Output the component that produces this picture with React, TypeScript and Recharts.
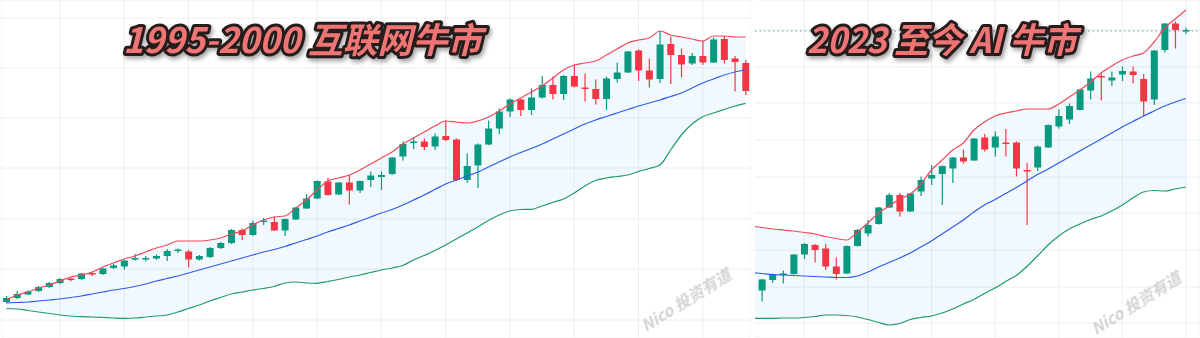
import React from 'react';
import { ComposedChart, Bar, Line, Area, XAxis, YAxis, CartesianGrid, ReferenceLine } from 'recharts';

// TradingView-ish palette
const GREEN = '#089981';
const RED = '#f23645';
const BAND_UP = '#ee4a58';
const BAND_MID = '#2f5bea';
const BAND_LOW = '#1f9a6c';
const GRID = '#eceef2';

// 1995-2000 candles: [open, high, low, close]
const LEFT_CANDLES: number[][] = [
  [36, 42, 35, 40], [40, 47, 39, 44], [43.5, 47.5, 43, 46.5], [47, 52, 46, 51], [51, 56, 50, 55],
  [55, 60, 54, 59], [59.5, 60.5, 56.5, 58], [59, 65, 58, 64.5], [65, 66, 62, 63.5], [64, 70, 63, 69.5],
  [70, 74, 69, 72.5], [71.5, 78, 68.5, 77.5], [79, 84, 77.5, 80], [79, 82, 76.5, 80], [79.5, 83.5, 78, 82],
  [82, 89, 77, 87], [87.5, 89.5, 85, 88.5], [86.5, 88, 70.5, 78.5], [78.5, 83, 77.5, 82], [81, 91, 80, 90],
  [90, 96, 89, 95], [95, 109, 94, 108], [108, 109.5, 98, 103], [103, 117.5, 102, 115], [116.5, 120, 113, 117.5],
  [116, 121.5, 107, 107.5], [107.5, 119.5, 102, 119], [118.5, 131, 118, 130.5], [129.5, 144, 129, 139.5], [139.5, 157.5, 139, 157],
  [156.5, 160, 142.5, 143], [143.5, 156, 143, 155.5], [155.5, 163, 133.5, 147.5], [147.5, 157.5, 145, 157], [158, 166.5, 151, 162.5],
  [161, 166.5, 148, 163], [164, 181, 163, 180.5], [181.5, 196.5, 177.5, 194], [195, 201, 189, 196.5], [196.5, 199.5, 188, 191],
  [191.5, 204.5, 188, 201.5], [202, 217.5, 197, 198], [198.5, 199.5, 157, 158], [158, 184.5, 155, 172], [172.5, 194.5, 150, 193.5],
  [193.5, 217.5, 193, 209.5], [209.5, 229.5, 204, 226.5], [226.5, 239.5, 221, 238.5], [238.5, 239.5, 222, 228], [228, 249.5, 223, 240.5],
  [240.5, 262, 239.5, 253], [253, 261.5, 238.5, 244], [244, 263, 238, 262], [262, 273, 250.5, 251.5], [250.5, 264.5, 236.5, 249],
  [249, 258.5, 233.5, 239], [239, 261.5, 228, 259.5], [259, 275.5, 255.5, 265.5], [265.5, 287, 265, 286.5], [287.5, 288.5, 257, 267.5],
  [267.5, 279.5, 250.5, 258.5], [259, 307, 255, 293.5], [294, 301.5, 254, 283], [283, 289.5, 260.5, 273.5], [274.5, 285, 273, 282],
  [282, 297, 273, 275.5], [275.5, 300.5, 275, 298.5], [299, 302, 274.5, 278], [279.5, 282, 246.5, 276], [275, 278, 243, 247],
];
const LEFT_UPPER = [
  38, 43, 46, 50, 53, 57, 61, 63, 66, 71, 75, 79, 82, 86, 90, 93, 97, 97, 97, 98,
  100, 104, 107, 113, 118, 121, 122, 130, 138, 148, 157, 160, 163, 168, 174, 180, 186, 194, 200, 206,
  212, 217, 216, 215, 217, 221, 227, 234, 240, 246, 252, 260, 268, 273, 275, 277, 283, 289, 295, 298,
  300, 307, 303, 301, 299, 297, 302, 302, 301, 301,
];
const LEFT_MID = [
  35, 35.5, 36, 37, 38, 39, 40.5, 42, 44, 46, 48, 49.5, 51.5, 54, 57, 59.5, 62, 65, 68, 71,
  74, 77, 80, 83, 86, 88.5, 91.5, 95, 98.5, 102, 106, 109.5, 113, 117, 121, 125, 128.5, 133, 138, 143,
  148.5, 154, 158, 162, 166, 171, 176, 181, 185.5, 189.5, 194, 199, 204, 209, 214, 218, 221.5, 225, 228.5, 232,
  235, 238, 241.5, 245, 250, 255, 259, 263, 266, 268,
];
const LEFT_LOWER = [
  29.5, 29, 27.5, 26, 24.5, 23, 22, 21.3, 21, 20.5, 20, 19.7, 20, 21, 22, 23, 26, 29.5, 33, 37,
  40.5, 44, 46, 48, 49.5, 51.5, 55, 56, 55, 54.7, 56.5, 58.5, 61, 63, 65.5, 68, 70, 72.5, 78, 82.5,
  87.5, 93, 99, 105, 111, 117.5, 123, 127, 128.5, 128.7, 132, 135.5, 139, 145, 152, 157.5, 160, 161.5, 163, 166.5,
  169.5, 173, 188, 203, 214, 221.3, 225, 228.5, 232, 234.7,
];

// 2023-now candles: [open, high, low, close]
const RIGHT_CANDLES: number[][] = [
  [56, 58, 47, 49], [47.5, 59, 36.5, 58.5], [58, 64.5, 55, 63.5], [63.5, 67.5, 54.5, 64.5], [64, 84, 63.5, 83.5],
  [83.5, 95, 79, 94], [93, 94, 75.5, 88], [89.5, 94, 68, 71.5], [71.5, 80.5, 58.5, 64], [64.5, 92.5, 64, 92],
  [92, 109, 91.5, 108], [104.5, 118, 101.5, 113], [114, 131, 113.5, 130.5], [130.5, 145, 130, 143], [143, 145, 121.5, 126.5],
  [126.5, 145, 126, 144.5], [146.5, 161.5, 142, 158], [159.5, 173, 153, 163], [164, 172.5, 133, 172], [169.5, 181, 155, 180.5],
  [180.5, 188.5, 174.5, 176.5], [177.5, 200, 177, 199.5], [200.5, 204, 186.5, 188.5], [190.5, 206.5, 181.5, 201.5], [195.5, 209, 181.5, 194],
  [195.5, 196.5, 161.5, 169.5], [168, 175, 113, 166.5], [170.5, 192.5, 167, 191.5], [190.5, 213.5, 190, 213], [211.5, 228.5, 209.5, 222],
  [218.5, 234.5, 214, 232], [228, 249, 227.5, 248.5], [247.5, 266.5, 238.5, 259.5], [262, 264.5, 237.5, 260.5], [257.5, 266.5, 252, 260.5],
  [263.5, 271.5, 257, 267], [266.5, 271.5, 254.5, 263], [259, 264, 221.5, 236.5], [238.5, 288, 233, 287.5], [288, 315, 285.5, 314.5],
  [314.5, 316.5, 289.5, 308], [307, 310.5, 304, 308],
];
const RIGHT_UPPER = [
  112, 110.5, 109, 108, 107, 105.5, 104, 101.5, 99.5, 98, 106, 115, 125, 132, 139, 144, 154, 168, 178, 188,
  195, 208, 216, 222, 225, 227, 229, 229, 229, 234, 241, 248, 256, 265, 272, 278, 282, 285, 296, 310, 319, 328,
];
const RIGHT_MID = [
  65.5, 64.5, 63.5, 63, 62.5, 62, 61.5, 61, 60.5, 60.5, 62, 66, 71, 75.5, 80, 85, 91, 97, 104, 111,
  118, 126, 133, 138.5, 144.5, 150.5, 157, 163.5, 169, 175, 181, 187, 193, 199, 205, 211, 216.5, 222, 227, 232, 236, 239.5,
];
const RIGHT_LOWER = [
  19.7, 19.7, 19.7, 20, 20, 20.5, 21.5, 23, 23, 22.5, 21, 18.5, 15.5, 13, 14.5, 18.5, 20.5, 22, 25, 29,
  34, 38.5, 44.5, 50, 56.5, 62.5, 71.5, 82, 93, 102, 109, 114, 118.5, 122, 127, 133, 140, 146, 147.5, 147, 149, 151,
];
const RIGHT_LAST = 307;

// grid ticks
const LEFT_GRID_X = [5, 11, 17, 23, 29, 35, 41, 47, 53, 59, 65];
const LEFT_GRID_Y = [18, 69, 119, 170, 220, 270, 320];
const RIGHT_GRID_X = [5, 11, 17, 23, 29, 35, 41];
const RIGHT_GRID_Y = [15, 51, 88, 125, 161, 198, 235, 271, 308];

const buildRows = (candles: number[][], upper: number[], mid: number[], lower: number[]) =>
  candles.map(([open, high, low, close], i) => ({
    i,
    open,
    high,
    low,
    close,
    range: [low, high],
    upper: upper[i],
    mid: mid[i],
    lower: lower[i],
    band: [lower[i], upper[i]],
  }));

const leftRows = buildRows(LEFT_CANDLES, LEFT_UPPER, LEFT_MID, LEFT_LOWER);
const rightRows = buildRows(RIGHT_CANDLES, RIGHT_UPPER, RIGHT_MID, RIGHT_LOWER);

const Candle = (props: any) => {
  const { x, y, width, height, payload } = props;
  if (!payload || x == null) return null;
  const { open, close, high, low } = payload;
  const top = Math.min(y, y + height);
  const h = Math.abs(height);
  const k = h / (high - low || 1);
  const py = (v: number) => top + (high - v) * k;
  const color = close >= open ? GREEN : RED;
  const bTop = py(Math.max(open, close));
  const bBot = py(Math.min(open, close));
  const cx = x + width / 2;
  return (
    <g>
      <line x1={cx} x2={cx} y1={top} y2={top + h} stroke={color} strokeWidth={1.2} />
      <rect x={x} y={bTop} width={width} height={Math.max(1.5, bBot - bTop)} fill={color} />
    </g>
  );
};

interface PanelProps {
  rows: any[];
  width: number;
  padRight: number;
  xTicks: number[];
  yTicks: number[];
  last?: number;
}

const Panel: React.FC<PanelProps> = ({ rows, width, padRight, xTicks, yTicks, last }) => (
  <ComposedChart width={width} height={338} data={rows} margin={{ top: 0, right: 0, bottom: 0, left: 0 }}>
    <CartesianGrid stroke={GRID} strokeWidth={1} />
    <XAxis dataKey="i" type="category" hide ticks={xTicks} interval={0} padding={{ left: 0, right: padRight }} />
    <YAxis type="number" hide domain={[0, 338]} ticks={yTicks} allowDataOverflow />
    <Area dataKey="band" type="monotone" stroke="none" fill="#2196f3" fillOpacity={0.06} isAnimationActive={false} />
    <Line dataKey="upper" type="monotone" stroke={BAND_UP} strokeWidth={1.2} dot={false} isAnimationActive={false} />
    <Line dataKey="mid" type="monotone" stroke={BAND_MID} strokeWidth={1.2} dot={false} isAnimationActive={false} />
    <Line dataKey="lower" type="monotone" stroke={BAND_LOW} strokeWidth={1.2} dot={false} isAnimationActive={false} />
    {last != null && <ReferenceLine y={last} stroke="#5f9f95" strokeDasharray="1.5 3" strokeWidth={1} />}
    <Bar dataKey="range" barSize={7} shape={Candle} isAnimationActive={false} />
  </ComposedChart>
);

const TITLE_FONT = "'Noto Sans CJK SC', 'Noto Sans', sans-serif";

export default function App() {
  return (
    <div style={{ position: 'fixed', left: 0, top: 0, width: 1200, height: 338, background: '#fff', overflow: 'hidden' }}>
      <div style={{ position: 'absolute', left: 0, top: 0, width: 755, height: 338, overflow: 'hidden' }}>
        <div style={{ position: 'absolute', left: 1, top: 0 }}>
          <Panel rows={leftRows} width={750} padRight={0} xTicks={LEFT_GRID_X} yTicks={LEFT_GRID_Y} />
        </div>
      </div>
      <div style={{ position: 'absolute', left: 755, top: 0, width: 445, height: 338, overflow: 'hidden' }}>
        <div style={{ position: 'absolute', left: -8.9, top: 0 }}>
          <Panel rows={rightRows} width={454.2} padRight={9} xTicks={RIGHT_GRID_X} yTicks={RIGHT_GRID_Y} last={RIGHT_LAST} />
        </div>
      </div>
      <svg width={1200} height={338} style={{ position: 'absolute', left: 0, top: 0, pointerEvents: 'none' }}>
        <defs>
          <filter id="ttlShadow" x="-10%" y="-30%" width="120%" height="160%">
            <feDropShadow dx="2" dy="3" stdDeviation="2" floodColor="#000" floodOpacity="0.35" />
          </filter>
        </defs>
        <g fontFamily={TITLE_FONT} fontWeight={700} fontStyle="italic" fontSize={35} fill="#ef7575" stroke="#261c1c"
          strokeWidth={6} strokeLinejoin="round" paintOrder="stroke" filter="url(#ttlShadow)">
          <text x={123} y={53} textLength={359} lengthAdjust="spacingAndGlyphs">1995-2000 互联网牛市</text>
          <text x={807} y={53} textLength={270} lengthAdjust="spacingAndGlyphs">2023 至今 AI 牛市</text>
        </g>
        <g fontFamily={TITLE_FONT} fontWeight={700} fontStyle="italic" fontSize={16} fill="#cfcfcf" opacity={0.9}>
          <text transform="translate(686,300) rotate(-32)" textAnchor="middle" y={6}>Nico 投资有道</text>
          <text transform="translate(1136,303) rotate(-32)" textAnchor="middle" y={6}>Nico 投资有道</text>
        </g>
      </svg>
    </div>
  );
}
